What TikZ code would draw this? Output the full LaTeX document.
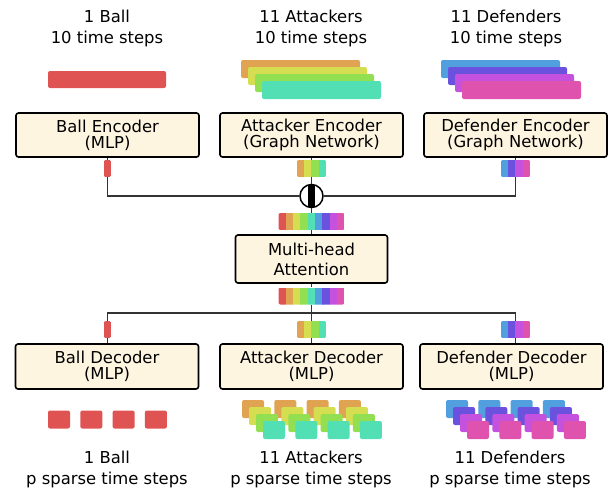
\documentclass[tikz,border=0pt]{standalone}
\usepackage{fontspec}
\setmainfont{DejaVu Sans}
\usetikzlibrary{calc}

\definecolor{cred}{HTML}{E05353}
\definecolor{corange}{HTML}{E0A352}
\definecolor{cyellow}{HTML}{D5DE50}
\definecolor{cgreen}{HTML}{93DF52}
\definecolor{cteal}{HTML}{52DFB4}
\definecolor{cblue}{HTML}{529FDF}
\definecolor{cindigo}{HTML}{6A52DF}
\definecolor{cviolet}{HTML}{C452DF}
\definecolor{cpink}{HTML}{DF52AE}
\definecolor{cream}{HTML}{FEF5E1}

\begin{document}
\begin{tikzpicture}[x=1pt, y=-1pt,
    blk/.style={draw=black, fill=cream, line width=1.6pt, rounded corners=2.5pt, align=center,
        minimum width=183pt, minimum height=44pt, inner sep=2pt, font=\fontsize{16.4}{16}\selectfont},
    lbl/.style={align=center, inner sep=0pt, font=\fontsize{16.4}{21}\selectfont},
    wire/.style={draw=black!80, line width=1.1pt},
    tok/.style n args={2}{rectangle, rounded corners=2pt, inner sep=0pt, minimum height=17pt,
        minimum width={#1*\sw pt},
        path picture={\foreach \c [count=\k] in {#2}
            \fill[fill=\c, sharp corners] ($(path picture bounding box.north west)+({(\k-1)*\sw-0.2},0)$)
                rectangle ($(path picture bounding box.south west)+({\k*\sw+0.2},0)$);}},
]
    % Page: 612 x 488, one unit = 1pt, y runs downwards
    \useasboundingbox (0,0) rectangle (612,488);
    \def\sw{7.33}   % width of one stripe of a token
    \def\pitch{32.3} % spacing of the sparse output steps

    % Inputs: 10 time steps per agent
    \node[lbl] (ballin) at (107,28) {1 Ball\\10 time steps};
    \node[lbl] (attin) at (311,28) {11 Attackers\\10 time steps};
    \node[lbl] (defin) at (506,28) {11 Defenders\\10 time steps};

    \fill[cred, rounded corners=2pt] (48,71) rectangle (166,88);
    \foreach \c [count=\i from 0] in {corange,cyellow,cgreen,cteal}
        \fill[fill=\c, rounded corners=2pt] ({241+7*\i},{60+7*\i}) rectangle ++(119,18);
    \foreach \c [count=\i from 0] in {cblue,cindigo,cviolet,cpink}
        \fill[fill=\c, rounded corners=2pt] ({441+7*\i},{60+7*\i}) rectangle ++(119,18);

    % Encoders and their embeddings
    \node[blk] (ballenc) at (107.5,135) {Ball Encoder\\(MLP)};
    \node[blk] (attenc) at (311.5,135) {Attacker Encoder\\(Graph Network)};
    \node[blk] (defenc) at (515.5,135) {Defender Encoder\\(Graph Network)};

    \node[tok={1}{cred}] (tballe) at (107.5,168.5) {};
    \node[tok={4}{corange,cyellow,cgreen,cteal}] (taenc) at (311.5,168.5) {};
    \node[tok={4}{cblue,cindigo,cviolet,cpink}] (tdenc) at (515.5,168.5) {};

    % Concatenation
    \node[circle, draw, line width=1.5pt, fill=white, minimum size=23pt, inner sep=0pt,
        path picture={\fill[black] ([xshift=-3.4pt]path picture bounding box.north)
            rectangle ([xshift=3.4pt]path picture bounding box.south);}] (cat) at (311.5,196) {};
    \node[tok={9}{cred,corange,cyellow,cgreen,cteal,cblue,cindigo,cviolet,cpink}] (tcat) at (311.5,221.5) {};

    % Attention
    \node[blk, minimum width=152pt, minimum height=48pt, font=\fontsize{16.4}{20}\selectfont] (attn) at (311.5,259) {Multi-head\\Attention};
    \node[tok={9}{cred,corange,cyellow,cgreen,cteal,cblue,cindigo,cviolet,cpink}] (tout) at (311.5,296) {};
    \coordinate (split) at (311.5,313);

    % Decoders
    \node[tok={1}{cred}] (tballd) at (107.5,329.5) {};
    \node[tok={4}{corange,cyellow,cgreen,cteal}] (tadec) at (311.5,329.5) {};
    \node[tok={4}{cblue,cindigo,cviolet,cpink}] (tddec) at (515.5,329.5) {};

    \node[blk, minimum height=45pt] (balldec) at (107,366.5) {Ball Decoder\\(MLP)};
    \node[blk, minimum height=45pt] (attdec) at (311.5,366.5) {Attacker Decoder\\(MLP)};
    \node[blk, minimum height=45pt] (defdec) at (511.5,366.5) {Defender Decoder\\(MLP)};

    % Wires
    \draw[wire] (ballenc) -- (tballe);
    \draw[wire] (attenc) -- (taenc);
    \draw[wire] (defenc) -- (tdenc);
    \draw[wire] (tballe) |- (cat);
    \draw[wire] (tdenc) |- (cat);
    \draw[wire] (taenc) -- (cat);
    \draw[wire] (cat) -- (tcat);
    \draw[wire] (tcat) -- (attn);
    \draw[wire] (attn) -- (tout);
    \draw[wire] (tout) -- (split);
    \draw[wire] (tballd) |- (split) -| (tddec);
    \draw[wire] (split) -- (tadec);
    \draw[wire] (tballd) -- (tballd |- balldec.north);
    \draw[wire] (tadec) -- (tadec |- attdec.north);
    \draw[wire] (tddec) -- (tddec |- defdec.north);

    % Outputs: p sparse time steps
    \foreach \j in {0,...,3}
        \fill[cred, rounded corners=2pt] ({48+\pitch*\j},410.5) rectangle ++(22,18);
    \foreach \c [count=\i from 0] in {corange,cyellow,cgreen,cteal}
        \foreach \j in {0,...,3}
            \fill[fill=\c, rounded corners=2pt] ({242+\pitch*\j+7*\i},{400+7*\i}) rectangle ++(22,18);
    \foreach \c [count=\i from 0] in {cblue,cindigo,cviolet,cpink}
        \foreach \j in {0,...,3}
            \fill[fill=\c, rounded corners=2pt] ({446+\pitch*\j+7*\i},{400+7*\i}) rectangle ++(22,18);

    \node[lbl] (ballout) at (107,469) {1 Ball\\p sparse time steps};
    \node[lbl] (attout) at (311,469) {11 Attackers\\p sparse time steps};
    \node[lbl] (defout) at (510,469) {11 Defenders\\p sparse time steps};
\end{tikzpicture}
\end{document}
